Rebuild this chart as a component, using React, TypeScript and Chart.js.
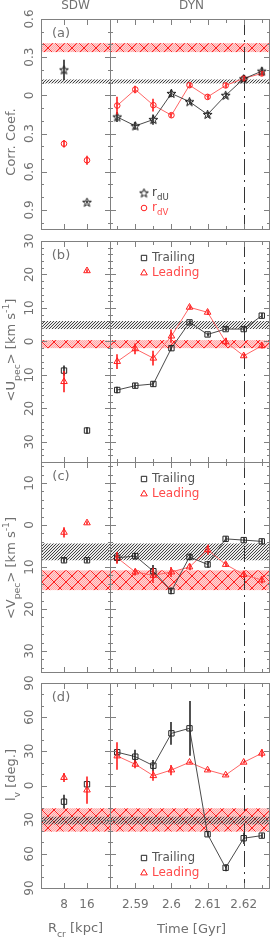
import React, { useEffect, useRef } from 'react';
import { Chart, registerables } from 'chart.js';

Chart.register(...registerables);

const W = 274;
const H = 940;
const FONT = '"DejaVu Sans", sans-serif';
const TEXT = '#707070';
const FRAME = '#808080';
const BLACK = '#262626';
const BLACK_LINE = '#4a4a4a';
const RED = '#ff1e1e';
const RED_LINE = '#ff6464';

// ---------------- x values ----------------
const sdwRcr = [8, 16];
const dynTime = [2.585, 2.59, 2.595, 2.6, 2.605, 2.61, 2.615, 2.62, 2.625];

// ---------------- x ticks ----------------
const sdwXTicks = [8, 16];
const sdwXTickLabels = ['8', '16'];
const dynXMajorTicks = [2.59, 2.6, 2.61, 2.62];
const dynXMinorTicks = [2.585, 2.595, 2.605, 2.615, 2.625];
const dynXTickLabels = ['2.59', '2.6', '2.61', '2.62'];
const markTime = 2.62;

// ---------------- (a) correlation coefficients ----------------
const corrTicks = [0.6, 0.3, 0, -0.3, -0.6, -0.9];
const corrTickLabels = ['0.6', '0.3', '0', '0.3', '0.6', '0.9'];
const sdwRdU = [0.2, -0.84];
const sdwRdUErr = [0.08, 0.01];
const sdwRdV = [-0.38, -0.51];
const sdwRdVErr = [0.03, 0.035];
const dynRdU = [-0.17, -0.24, -0.19, 0.015, -0.05, -0.15, 0.0, 0.13, 0.19];
const dynRdUErr = [0.04, 0.03, 0.04, 0.03, 0.02, 0.02, 0.02, 0.015, 0.03];
const dynRdV = [-0.08, 0.046, -0.077, -0.156, 0.08, -0.012, 0.078, 0.133, 0.172];
const dynRdVErr = [0.07, 0.03, 0.05, 0.02, 0.02, 0.02, 0.02, 0.02, 0.02];
const corrBandBlack = [0.094, 0.125];
const corrBandRed = [0.34, 0.41];

// ---------------- (b) <U_pec> ----------------
const uTicks = [30, 20, 10, 0, -10, -20, -30];
const uTickLabels = ['30', '20', '10', '0', '10', '20', '30'];
const sdwUTrail = [-8.7, -26.6];
const sdwUTrailErr = [1.5, 1];
const sdwULead = [-12, 21.1];
const sdwULeadErr = [3.2, 0.5];
const dynUTrail = [-14.5, -13.2, -12.7, -2.0, 5.7, 2.1, 3.7, 3.7, 7.7];
const dynUTrailErr = [1, 0.8, 0.8, 0.8, 0.6, 0.6, 0.6, 0.6, 0.8];
const dynULead = [-6.0, -2.2, -5.0, 1.6, 10.2, 8.7, -0.1, -4.3, -1.3];
const dynULeadErr = [2.2, 1.6, 2.2, 2.0, 0.6, 0.8, 1.2, 0.6, 0.8];
const uBandBlack = [3.7, 6.1];
const uBandRed = [-2.0, 0.4];

// ---------------- (c) <V_pec> ----------------
const vTicks = [10, 0, -10, -20, -30];
const vTickLabels = ['10', '0', '10', '20', '30'];
const sdwVTrail = [-8.4, -8.4];
const sdwVTrailErr = [0.6, 0.6];
const sdwVLead = [-1.75, 0.5];
const sdwVLeadErr = [1.2, 0.4];
const dynVTrail = [-7.8, -7.4, -11.0, -15.7, -7.6, -9.4, -3.3, -3.6, -3.9];
const dynVTrailErr = [1.2, 0.8, 1.5, 0.8, 0.8, 0.8, 0.6, 0.6, 0.6];
const dynVLead = [-7.8, -11.2, -12.0, -11.2, -10.0, -5.9, -9.4, -11.8, -13.1];
const dynVLeadErr = [1.4, 0.8, 1.8, 1.2, 0.8, 1.2, 0.6, 0.8, 0.8];
const vBandBlack = [-8.4, -4.4];
const vBandRed = [-15.5, -10.8];

// ---------------- (d) vertex deviation l_v ----------------
const lTicks = [90, 60, 30, 0, -30, -60, -90];
const lTickLabels = ['90', '60', '30', '0', '30', '60', '90'];
const sdwLTrail = [-14.2, 1.1];
const sdwLTrailErr = [6, 3];
const sdwLLead = [7, -4];
const sdwLLeadErr = [4, 12];
const dynLTrail = [29.2, 25.3, 17.4, 45.8, 50.2, -42.8, -72.2, -46.3, -44.0];
const dynLTrailErr = [2, 6, 5, 10, 24, 2, 3, 5, 2];
const dynLLead = [25.9, 18.6, 8.6, 13.6, 20.4, 13.6, 9.2, 20.4, 28.3];
const dynLLeadErr = [12, 3.5, 4.5, 4.5, 1, 1, 1, 1, 3.5];
const lBandBlack = [-34.1, -27.4];
const lBandRed = [-40.5, -20];

// ---------------- layout ----------------
const COL_L = { l: 41, r: 110 };
const COL_R = { l: 110, r: 273 };
const ROWS = [
  { t: 19, b: 229, y: [-1.05, 0.6], minor: 0.1, titleY: 142 },
  { t: 241, b: 462, y: [-36, 30], minor: 2, titleY: 350 },
  { t: 462, b: 672, y: [-35, 15], minor: 2, titleY: 568 },
  { t: 683, b: 888, y: [-90, 90], minor: 10, titleY: 775 },
];

type Seg = [string, number];

function drawRich(
  ctx: CanvasRenderingContext2D,
  segs: Seg[],
  x: number,
  y: number,
  size: number,
  color: string,
  rotate: boolean,
  align: 'center' | 'left' = 'center'
) {
  ctx.save();
  ctx.translate(x, y);
  if (rotate) ctx.rotate(-Math.PI / 2);
  ctx.textBaseline = 'middle';
  ctx.textAlign = 'left';
  ctx.fillStyle = color;
  const widths = segs.map(([t, k]) => {
    ctx.font = `${k ? size * 0.72 : size}px ${FONT}`;
    return ctx.measureText(t).width;
  });
  const total = widths.reduce((a, b) => a + b, 0);
  let cx = align === 'center' ? -total / 2 : 0;
  segs.forEach(([t, k], i) => {
    ctx.font = `${k ? size * 0.72 : size}px ${FONT}`;
    const dy = k < 0 ? size * 0.4 : k > 0 ? -size * 0.42 : 0;
    ctx.fillText(t, cx, dy);
    cx += widths[i];
  });
  ctx.restore();
}

function starPath(g: CanvasRenderingContext2D, cx: number, cy: number, R: number, r: number) {
  g.beginPath();
  for (let k = 0; k < 10; k++) {
    const a = -Math.PI / 2 + (k * Math.PI) / 5;
    const rad = k % 2 ? r : R;
    const px = cx + Math.cos(a) * rad;
    const py = cy + Math.sin(a) * rad;
    if (k === 0) g.moveTo(px, py);
    else g.lineTo(px, py);
  }
  g.closePath();
}

let starImg: HTMLCanvasElement | null = null;
function getStar() {
  if (!starImg) {
    const c = document.createElement('canvas');
    c.width = 11;
    c.height = 11;
    const g = c.getContext('2d')!;
    g.strokeStyle = '#111';
    g.lineWidth = 1;
    starPath(g, 5.5, 5.8, 4.6, 1.9);
    g.stroke();
    starImg = c;
  }
  return starImg;
}

function drawMarker(ctx: CanvasRenderingContext2D, kind: string, x: number, y: number, color: string) {
  ctx.save();
  ctx.strokeStyle = color;
  ctx.lineWidth = 1;
  if (kind === 'star') {
    ctx.drawImage(getStar(), x - 5.5, y - 5.5);
  } else {
    ctx.beginPath();
    if (kind === 'circle') ctx.arc(x, y, 2.8, 0, Math.PI * 2);
    else if (kind === 'rect') ctx.rect(x - 2.7, y - 2.7, 5.4, 5.4);
    else if (kind === 'triangle') {
      ctx.moveTo(x, y - 3.8);
      ctx.lineTo(x + 3.3, y + 1.9);
      ctx.lineTo(x - 3.3, y + 1.9);
      ctx.closePath();
    }
    ctx.stroke();
  }
  ctx.restore();
}

function makeRedPattern(ctx: CanvasRenderingContext2D) {
  const c = document.createElement('canvas');
  c.width = 12;
  c.height = 12;
  const g = c.getContext('2d')!;
  g.fillStyle = 'rgba(255,205,205,0.85)';
  g.fillRect(0, 0, 12, 12);
  g.fillStyle = 'rgba(255,110,110,0.45)';
  for (let i = 0; i < 12; i++) for (let j = 0; j < 12; j++) if ((i + j) % 2 === 0) g.fillRect(i, j, 1, 1);
  g.fillStyle = '#ff2020';
  for (let i = 0; i < 12; i++) {
    g.fillRect(i, i, 1, 1);
    g.fillRect(11 - i, i, 1, 1);
  }
  return ctx.createPattern(c, 'repeat')!;
}

function makeBlackPattern(ctx: CanvasRenderingContext2D) {
  const c = document.createElement('canvas');
  c.width = 3;
  c.height = 3;
  const g = c.getContext('2d')!;
  g.fillStyle = 'rgba(0,0,0,0.08)';
  g.fillRect(0, 0, 3, 3);
  g.fillStyle = '#444';
  for (let i = 0; i < 3; i++) g.fillRect(i, 2 - i, 1, 1);
  return ctx.createPattern(c, 'repeat')!;
}

function minorTicks(min: number, max: number, step: number, majors: number[]) {
  const out: number[] = [];
  for (let v = Math.ceil(min / step - 1e-9) * step; v <= max + 1e-9; v += step) {
    const r = Math.round(v * 1e6) / 1e6;
    if (!majors.some((m) => Math.abs(m - r) < step * 1e-3)) out.push(r);
  }
  return out;
}

interface Series {
  xs: number[];
  ys: number[];
  errs: number[];
  kind: string;
  color: string;
  line?: string;
}

interface PanelCfg {
  box: { l: number; t: number; r: number; b: number };
  x: number[];
  y: number[];
  left: boolean;
  bottom: boolean;
  yMajor: number[];
  yMinor: number[];
  yLabels: string[];
  xMajor: number[];
  xMinor: number[];
  xLabels: string[];
  bands: { range: number[]; kind: 'red' | 'black' }[];
  series: Series[];
  vline?: number;
  texts: (ctx: CanvasRenderingContext2D, box: { l: number; t: number; r: number; b: number }) => void;
}

function makePlugin(cfg: PanelCfg) {
  return {
    id: 'panelDecor',
    beforeDatasetsDraw(chart: any) {
      const ctx: CanvasRenderingContext2D = chart.ctx;
      const { left, right, top, bottom } = chart.chartArea;
      const ys = chart.scales.y;
      const xs = chart.scales.x;
      cfg.bands.forEach((b) => {
        const y1 = ys.getPixelForValue(b.range[1]);
        const y2 = ys.getPixelForValue(b.range[0]);
        ctx.save();
        ctx.fillStyle = b.kind === 'red' ? makeRedPattern(ctx) : makeBlackPattern(ctx);
        ctx.fillRect(left, y1, right - left, y2 - y1);
        ctx.restore();
      });
      if (cfg.vline !== undefined) {
        const px = Math.round(xs.getPixelForValue(cfg.vline)) + 0.5;
        ctx.save();
        ctx.strokeStyle = '#333';
        ctx.lineWidth = 1;
        ctx.setLineDash([16, 5, 2, 5]);
        ctx.beginPath();
        ctx.moveTo(px, top);
        ctx.lineTo(px, bottom);
        ctx.stroke();
        ctx.restore();
      }
    },
    afterDatasetsDraw(chart: any) {
      const ctx: CanvasRenderingContext2D = chart.ctx;
      const xs = chart.scales.x;
      const ys = chart.scales.y;
      ctx.save();
      ctx.lineWidth = 1.6;
      cfg.series.forEach((s) => {
        ctx.strokeStyle = s.color;
        s.xs.forEach((xv, i) => {
          const e = s.errs[i];
          if (!e) return;
          const px = Math.round(xs.getPixelForValue(xv));
          ctx.beginPath();
          ctx.moveTo(px, ys.getPixelForValue(s.ys[i] + e));
          ctx.lineTo(px, ys.getPixelForValue(s.ys[i] - e));
          ctx.stroke();
        });
      });
      ctx.restore();
    },
    afterDraw(chart: any) {
      const ctx: CanvasRenderingContext2D = chart.ctx;
      const { left, right, top, bottom } = chart.chartArea;
      const xs = chart.scales.x;
      const ys = chart.scales.y;
      ctx.save();
      ctx.strokeStyle = FRAME;
      ctx.lineWidth = 1;
      ctx.strokeRect(left + 0.5, top + 0.5, right - left, bottom - top);
      ctx.beginPath();
      const yTick = (v: number, len: number) => {
        const py = Math.round(ys.getPixelForValue(v)) + 0.5;
        ctx.moveTo(left, py);
        ctx.lineTo(left + len, py);
        ctx.moveTo(right + 1, py);
        ctx.lineTo(right + 1 - len, py);
      };
      const xTick = (v: number, len: number) => {
        const px = Math.round(xs.getPixelForValue(v)) + 0.5;
        ctx.moveTo(px, top);
        ctx.lineTo(px, top + len);
        ctx.moveTo(px, bottom + 1);
        ctx.lineTo(px, bottom + 1 - len);
      };
      cfg.yMajor.forEach((v) => yTick(v, 6));
      cfg.yMinor.forEach((v) => yTick(v, 3));
      cfg.xMajor.forEach((v) => xTick(v, 6));
      cfg.xMinor.forEach((v) => xTick(v, 4));
      ctx.stroke();
      ctx.restore();

      if (cfg.left) {
        cfg.yMajor.forEach((v, i) => {
          drawRich(ctx, [[cfg.yLabels[i], 0]], 30, ys.getPixelForValue(v), 12, TEXT, true);
        });
      }
      if (cfg.bottom) {
        cfg.xMajor.forEach((v, i) => {
          drawRich(ctx, [[cfg.xLabels[i], 0]], xs.getPixelForValue(v), 905, 12, TEXT, false);
        });
      }
      cfg.texts(ctx, cfg.box);
    },
  };
}

function PanelChart({ cfg }: { cfg: PanelCfg }) {
  const ref = useRef<HTMLCanvasElement>(null);
  useEffect(() => {
    const datasets = cfg.series.map((s) => ({
      data: s.xs.map((x, i) => ({ x, y: s.ys[i] })),
      showLine: !!s.line,
      borderColor: s.line || s.color,
      borderWidth: 1,
      pointStyle: s.kind === 'star' ? getStar() : s.kind,
      pointRadius: s.kind === 'circle' ? 2.8 : 3.8,
      pointBorderColor: s.color,
      pointBackgroundColor: 'rgba(0,0,0,0)',
      pointBorderWidth: 1,
      clip: false,
    }));
    const chart = new Chart(ref.current!, {
      type: 'scatter',
      data: { datasets: datasets as any },
      options: {
        responsive: false,
        animation: false,
        devicePixelRatio: 1,
        events: [],
        layout: {
          padding: { left: cfg.box.l, top: cfg.box.t, right: W - cfg.box.r, bottom: H - cfg.box.b },
        },
        scales: {
          x: { type: 'linear', min: cfg.x[0], max: cfg.x[1], display: false },
          y: { type: 'linear', min: cfg.y[0], max: cfg.y[1], display: false },
        },
        plugins: { legend: { display: false }, tooltip: { enabled: false } },
      },
      plugins: [makePlugin(cfg) as any],
    });
    return () => chart.destroy();
  }, [cfg]);
  return <canvas ref={ref} width={W} height={H} style={{ position: 'absolute', left: 0, top: 0 }} />;
}

const rowData = [
  {
    ticks: corrTicks,
    labels: corrTickLabels,
    tag: '(a)',
    title: [['Corr. Coef.', 0]] as Seg[],
    bands: [
      { range: corrBandRed, kind: 'red' as const },
      { range: corrBandBlack, kind: 'black' as const },
    ],
    sdw: [
      { xs: sdwRcr, ys: sdwRdU, errs: sdwRdUErr, kind: 'star', color: BLACK },
      { xs: sdwRcr, ys: sdwRdV, errs: sdwRdVErr, kind: 'circle', color: RED },
    ],
    dyn: [
      { xs: dynTime, ys: dynRdU, errs: dynRdUErr, kind: 'star', color: BLACK, line: BLACK_LINE },
      { xs: dynTime, ys: dynRdV, errs: dynRdVErr, kind: 'circle', color: RED, line: RED_LINE },
    ],
  },
  {
    ticks: uTicks,
    labels: uTickLabels,
    tag: '(b)',
    title: [['<U', 0], ['pec', -1], ['> [km s', 0], ['-1', 1], [']', 0]] as Seg[],
    bands: [
      { range: uBandRed, kind: 'red' as const },
      { range: uBandBlack, kind: 'black' as const },
    ],
    sdw: [
      { xs: sdwRcr, ys: sdwUTrail, errs: sdwUTrailErr, kind: 'rect', color: BLACK },
      { xs: sdwRcr, ys: sdwULead, errs: sdwULeadErr, kind: 'triangle', color: RED },
    ],
    dyn: [
      { xs: dynTime, ys: dynUTrail, errs: dynUTrailErr, kind: 'rect', color: BLACK, line: BLACK_LINE },
      { xs: dynTime, ys: dynULead, errs: dynULeadErr, kind: 'triangle', color: RED, line: RED_LINE },
    ],
  },
  {
    ticks: vTicks,
    labels: vTickLabels,
    tag: '(c)',
    title: [['<V', 0], ['pec', -1], ['> [km s', 0], ['-1', 1], [']', 0]] as Seg[],
    bands: [
      { range: vBandRed, kind: 'red' as const },
      { range: vBandBlack, kind: 'black' as const },
    ],
    sdw: [
      { xs: sdwRcr, ys: sdwVTrail, errs: sdwVTrailErr, kind: 'rect', color: BLACK },
      { xs: sdwRcr, ys: sdwVLead, errs: sdwVLeadErr, kind: 'triangle', color: RED },
    ],
    dyn: [
      { xs: dynTime, ys: dynVTrail, errs: dynVTrailErr, kind: 'rect', color: BLACK, line: BLACK_LINE },
      { xs: dynTime, ys: dynVLead, errs: dynVLeadErr, kind: 'triangle', color: RED, line: RED_LINE },
    ],
  },
  {
    ticks: lTicks,
    labels: lTickLabels,
    tag: '(d)',
    title: [['l', 0], ['v', -1], [' [deg.]', 0]] as Seg[],
    bands: [
      { range: lBandRed, kind: 'red' as const },
      { range: lBandBlack, kind: 'black' as const },
    ],
    sdw: [
      { xs: sdwRcr, ys: sdwLTrail, errs: sdwLTrailErr, kind: 'rect', color: BLACK },
      { xs: sdwRcr, ys: sdwLLead, errs: sdwLLeadErr, kind: 'triangle', color: RED },
    ],
    dyn: [
      { xs: dynTime, ys: dynLTrail, errs: dynLTrailErr, kind: 'rect', color: BLACK, line: BLACK_LINE },
      { xs: dynTime, ys: dynLLead, errs: dynLLeadErr, kind: 'triangle', color: RED, line: RED_LINE },
    ],
  },
];

function legendItem(
  ctx: CanvasRenderingContext2D,
  kind: string,
  x: number,
  y: number,
  color: string,
  textColor: string,
  segs: Seg[]
) {
  drawMarker(ctx, kind, x, y, color);
  drawRich(ctx, segs, x + 8, y, 12, textColor, false, 'left');
}

function buildPanels(): PanelCfg[] {
  const out: PanelCfg[] = [];
  rowData.forEach((rd, ri) => {
    const row = ROWS[ri];
    const isBottom = ri === ROWS.length - 1;
    const yMinor = minorTicks(row.y[0], row.y[1], row.minor, rd.ticks);
    out.push({
      box: { l: COL_L.l, r: COL_L.r, t: row.t, b: row.b },
      x: [0, 24],
      y: row.y,
      left: true,
      bottom: isBottom,
      yMajor: rd.ticks,
      yMinor,
      yLabels: rd.labels,
      xMajor: sdwXTicks,
      xMinor: [],
      xLabels: sdwXTickLabels,
      bands: rd.bands,
      series: rd.sdw,
      texts: (ctx, box) => {
        drawRich(ctx, [[rd.tag, 0]], box.l + 20, box.t + 15, 13, TEXT, false);
        drawRich(ctx, rd.title, 12, row.titleY, 13, TEXT, true);
        if (ri === 0) drawRich(ctx, [['SDW', 0]], (box.l + box.r) / 2, 6, 12, TEXT, false);
        if (isBottom) drawRich(ctx, [['R', 0], ['cr', -1], [' [kpc]', 0]], (box.l + box.r) / 2, 929, 13, TEXT, false);
      },
    });
    out.push({
      box: { l: COL_R.l, r: COL_R.r, t: row.t, b: row.b },
      x: [2.583, 2.627],
      y: row.y,
      left: false,
      bottom: isBottom,
      yMajor: rd.ticks,
      yMinor,
      yLabels: rd.labels,
      xMajor: dynXMajorTicks,
      xMinor: dynXMinorTicks,
      xLabels: dynXTickLabels,
      bands: rd.bands,
      series: rd.dyn,
      vline: markTime,
      texts: (ctx, box) => {
        if (ri === 0) {
          drawRich(ctx, [['DYN', 0]], (box.l + box.r) / 2, 6, 12, TEXT, false);
          legendItem(ctx, 'star', box.l + 34, box.b - 36, BLACK, '#444', [['r', 0], ['dU', -1]]);
          legendItem(ctx, 'circle', box.l + 34, box.b - 21, RED, '#ff4a4a', [['r', 0], ['dV', -1]]);
        } else {
          const y1 = ri === 3 ? box.b - 30 : box.t + 17;
          legendItem(ctx, 'rect', box.l + 34, y1, BLACK, '#555', [['Trailing', 0]]);
          legendItem(ctx, 'triangle', box.l + 34, y1 + 15, RED, '#ff4a4a', [['Leading', 0]]);
        }
        if (isBottom) drawRich(ctx, [['Time [Gyr]', 0]], (box.l + box.r) / 2, 930, 13, TEXT, false);
      },
    });
  });
  return out;
}

const PANELS = buildPanels();

export default function App() {
  return (
    <div style={{ position: 'absolute', left: 0, top: 0, width: W, height: H, background: '#fff', overflow: 'hidden' }}>
      {PANELS.map((p, i) => (
        <PanelChart key={i} cfg={p} />
      ))}
    </div>
  );
}
